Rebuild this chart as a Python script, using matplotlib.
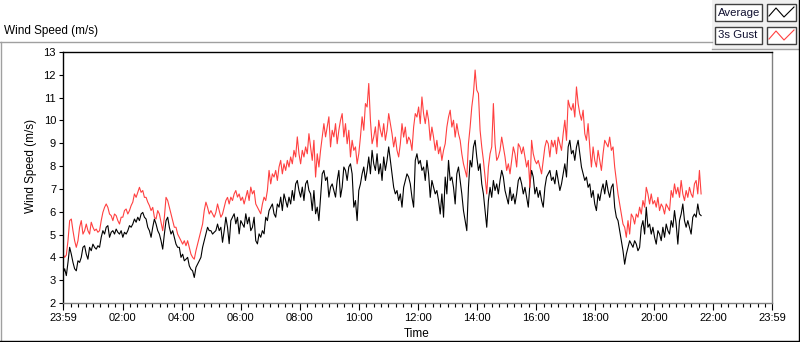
import pandas as pd
import matplotlib
matplotlib.use("Agg")
import matplotlib.pyplot as plt
import matplotlib.dates as mdates
from matplotlib.ticker import FixedLocator
from matplotlib.lines import Line2D
from matplotlib.patches import Rectangle

# -------------- DATA --------------
AXIS_START = "2024-01-01 23:59"
AXIS_END = "2024-01-02 23:59"
LAST_SAMPLE = "2024-01-02 21:35"

# average wind speed (m/s)
avg = [
    3.3, 3.5, 3.2, 3.78, 4.44, 4.14, 3.78, 3.5, 3.41, 3.85,
    3.78, 4.0, 4.44, 4.51, 4.14, 3.92, 4.44, 4.29, 4.58, 4.44,
    4.36, 4.51, 4.44, 4.88, 5.17, 5.02, 5.32, 5.39, 4.88, 5.1,
    5.17, 5.02, 5.24, 5.1, 5.02, 5.17, 4.88, 5.1, 5.02, 5.17,
    5.39, 5.32, 5.46, 5.68, 5.54, 5.76, 5.61, 5.9, 5.97, 5.76,
    5.68, 5.32, 5.17, 4.88, 5.32, 5.68, 5.46, 5.17, 5.02, 4.73,
    4.36, 5.02, 5.61, 5.76, 5.32, 5.02, 5.17, 4.88, 4.58, 4.44,
    4.44, 4.0, 4.14, 3.85, 3.92, 4.0, 3.63, 3.48, 3.41, 3.12,
    3.56, 3.7, 3.85, 4.0, 4.44, 4.73, 5.02, 5.32, 5.17, 5.17,
    5.02, 5.1, 5.17, 5.46, 5.17, 5.32, 4.66, 5.17, 5.76, 5.32,
    # 06:00 - 11:30
    4.6, 5.61, 5.76, 5.91, 5.47, 5.76, 5.03, 5.61, 5.47, 5.32,
    5.91, 5.47, 5.76, 5.17, 5.32, 5.76, 4.73, 4.59, 5.03, 4.88,
    5.17, 5.03, 5.76, 5.61, 6.05, 6.2, 6.34, 5.91, 5.76, 6.34,
    6.2, 6.64, 6.05, 6.78, 6.49, 6.2, 6.64, 6.34, 6.93, 6.49,
    7.22, 7.37, 6.93, 6.64, 7.08, 6.49, 7.22, 7.37, 6.93, 6.78,
    6.05, 6.93, 5.91, 6.2, 5.61, 6.64, 7.66, 7.81, 7.37, 7.52,
    6.64, 7.08, 7.22, 6.93, 6.64, 7.37, 7.81, 6.64, 7.08, 7.96,
    7.81, 7.37, 7.96, 8.10, 7.66, 6.2, 6.49, 5.61, 6.93, 7.22,
    7.66, 7.96, 7.37, 7.81, 8.40, 7.66, 8.69, 8.10, 7.81, 8.54,
    7.66, 8.10, 7.37, 8.40, 7.81, 8.25, 8.84,
    # 11:30 - 17:00
    8.25, 7.66, 7.07, 6.78, 6.93, 6.49, 6.78, 6.20, 7.07, 7.37,
    7.66, 7.52, 7.22, 6.63, 6.20, 8.25, 8.54, 8.10, 8.25, 7.81,
    7.96, 7.37, 8.25, 7.66, 6.63, 7.37, 7.07, 6.78, 6.93, 6.49,
    5.90, 6.78, 5.76, 7.52, 6.78, 8.25, 7.37, 7.52, 7.07, 6.34,
    7.66, 7.96, 7.37, 6.78, 6.05, 5.61, 5.17, 7.07, 8.25, 7.96,
    8.84, 9.13, 8.40, 7.81, 8.10, 7.22, 6.78, 6.05, 5.32, 6.49,
    7.07, 6.63, 7.37, 6.93, 7.22, 6.78, 7.37, 7.81, 7.52, 6.93,
    6.63, 6.34, 7.07, 6.49, 6.78, 6.34, 6.78, 7.37, 7.52, 7.22,
    6.78, 7.07, 6.63, 6.20, 7.22, 7.81, 7.52, 6.78, 7.07, 6.63,
    6.93, 6.49, 6.20, 7.07, 7.52, 7.66, 7.81, 7.37,
    # 17:00 - 21:35
    7.52, 7.22, 7.81, 7.37, 6.93, 7.22, 7.66, 8.10, 7.52, 8.84,
    9.13, 8.54, 8.69, 8.25, 8.84, 9.13, 8.54, 7.96, 7.66, 7.37,
    7.52, 7.07, 7.22, 6.63, 6.93, 6.34, 6.05, 6.78, 6.49, 6.93,
    7.22, 6.78, 7.37, 6.93, 6.63, 7.07, 7.22, 6.20, 5.76, 5.61,
    5.17, 4.73, 4.29, 3.70, 4.14, 4.44, 4.73, 4.58, 4.44, 4.73,
    4.58, 4.29, 4.44, 5.32, 5.61, 5.02, 6.20, 5.32, 5.46, 5.02,
    5.32, 4.88, 4.58, 5.17, 5.02, 4.73, 5.32, 4.88, 5.46, 5.17,
    5.02, 5.61, 5.32, 6.05, 5.46, 4.58, 5.61, 5.90, 6.34, 5.61,
    5.32, 5.61, 5.32, 5.02, 5.76, 5.90, 5.76, 6.34, 5.90, 5.83,
]

# 3 s gust (m/s)
gust = [
    4.14, 4.0, 4.1, 4.73, 5.61, 5.68, 5.17, 4.73, 4.44, 4.73,
    5.32, 5.61, 5.02, 5.17, 5.46, 5.17, 5.02, 5.54, 5.32, 5.17,
    5.24, 5.1, 5.17, 5.61, 5.97, 6.19, 6.34, 6.19, 5.9, 5.83,
    5.61, 5.9, 5.83, 5.61, 5.46, 5.76, 5.76, 6.05, 6.12, 5.9,
    6.05, 6.27, 6.42, 6.78, 6.63, 6.85, 7.07, 6.85, 6.93, 6.63,
    6.63, 6.42, 6.27, 6.05, 6.19, 5.76, 5.68, 6.05, 5.9, 5.54,
    5.17, 5.76, 6.63, 6.49, 6.19, 5.9, 5.61, 5.32, 5.32, 5.02,
    4.88, 4.73, 4.58, 4.73, 4.51, 4.73, 4.44, 4.14, 4.0, 3.92,
    4.29, 4.58, 4.88, 5.17, 5.46, 6.05, 6.42, 6.19, 5.9, 6.05,
    5.9, 5.76, 5.97, 6.34, 6.05, 5.76, 5.9, 6.19, 6.49, 6.63,
    # 06:00 - 11:30
    6.34, 6.64, 6.49, 6.78, 6.93, 6.64, 6.78, 6.49, 6.64, 6.34,
    6.64, 6.93, 6.49, 7.08, 6.78, 6.93, 6.34, 6.2, 6.05, 5.91,
    6.34, 6.64, 6.49, 6.93, 7.81, 7.22, 7.66, 7.52, 7.81, 7.37,
    7.96, 8.25, 7.66, 8.10, 7.81, 8.25, 7.96, 8.40, 8.10, 8.69,
    8.40, 9.28, 8.54, 8.10, 8.69, 8.40, 8.84, 8.54, 9.42, 8.84,
    8.25, 9.13, 7.52, 8.54, 7.96, 8.69, 9.28, 9.86, 9.28, 9.72,
    10.16, 8.84, 9.57, 9.28, 9.86, 8.98, 9.57, 10.01, 10.30, 9.28,
    9.86, 8.98, 9.57, 8.40, 9.13, 8.69, 8.84, 8.10, 8.54, 9.28,
    10.16, 9.57, 10.74, 10.59, 11.62, 10.01, 8.98, 9.28, 9.72, 8.84,
    10.01, 9.57, 9.28, 9.86, 9.13, 9.57, 10.30,
    # 11:30 - 17:00
    9.86, 9.42, 8.84, 9.27, 8.69, 8.40, 8.98, 9.86, 9.27, 9.71,
    8.98, 9.27, 9.13, 8.69, 9.71, 10.30, 10.15, 10.59, 9.86, 11.03,
    10.30, 9.86, 10.45, 10.01, 9.13, 9.71, 9.27, 8.69, 9.13, 8.54,
    8.84, 8.25, 8.69, 8.98, 9.71, 10.15, 10.45, 9.71, 10.01, 9.27,
    9.86, 9.42, 9.13, 8.54, 8.10, 7.81, 7.52, 8.98, 9.71, 10.59,
    11.18, 12.21, 11.33, 11.18, 9.57, 8.84, 8.25, 7.52, 6.78, 7.96,
    8.54, 8.84, 10.74, 8.98, 8.25, 8.40, 8.69, 9.27, 8.84, 8.40,
    7.81, 8.10, 7.66, 8.25, 8.84, 8.54, 7.96, 8.98, 8.84, 8.54,
    8.84, 8.40, 7.96, 8.25, 7.07, 9.13, 8.54, 8.25, 8.10, 8.25,
    7.96, 7.66, 8.25, 8.84, 9.13, 8.98, 8.40, 9.13,
    # 17:00 - 21:35
    8.84, 9.13, 8.54, 9.27, 8.98, 8.69, 9.42, 10.01, 9.13, 10.89,
    10.59, 10.45, 10.74, 10.15, 11.47, 10.74, 10.30, 10.01, 10.45, 9.42,
    9.13, 9.86, 8.84, 7.96, 8.84, 8.25, 7.96, 8.69, 8.25, 7.81,
    8.54, 9.13, 8.98, 8.84, 9.27, 8.69, 8.84, 7.96, 7.37, 6.78,
    6.34, 5.90, 5.46, 5.32, 4.88, 5.61, 5.02, 5.90, 5.76, 5.46,
    5.90, 5.76, 6.20, 5.90, 6.49, 6.20, 7.07, 6.78, 6.34, 6.78,
    6.34, 6.49, 6.20, 6.63, 6.05, 6.34, 6.20, 5.90, 6.34, 6.20,
    6.05, 6.93, 6.63, 7.22, 6.78, 7.07, 6.63, 7.37, 6.78, 6.49,
    6.93, 6.63, 7.07, 6.78, 6.63, 7.22, 7.37, 6.78, 7.81, 6.78,
]

SERIES = ["Average", "3s Gust"]
COLORS = ["black", "#ff4040"]
Y_TICKS = list(range(2, 14))
# --------------------------------------------------------

plt.rcParams["font.family"] = ["Liberation Sans", "DejaVu Sans"]

W, H = 800, 342
times = pd.date_range(AXIS_START, LAST_SAMPLE, periods=len(avg))
t0 = pd.Timestamp(AXIS_START)
t1 = pd.Timestamp(AXIS_END)


def fx(x):
    return x / W


def fy(y):
    return 1 - y / H


fig = plt.figure(figsize=(W / 100, H / 100), dpi=100)
ax = fig.add_axes([fx(63), fy(303), 709 / W, 251 / H])

ax.plot(times, avg, color=COLORS[0], lw=0.8)
ax.plot(times, gust, color=COLORS[1], lw=0.8)

ax.set_xlim(t0, t1)
ax.set_ylim(2, 13)
ax.set_yticks(Y_TICKS)

majors = [t0] + [t0.normalize() + pd.Timedelta(days=1, hours=h)
                 for h in range(2, 23, 2)] + [t1]
ax.xaxis.set_major_locator(FixedLocator(mdates.date2num(majors)))
ax.xaxis.set_major_formatter(mdates.DateFormatter("%H:%M"))
ax.xaxis.set_minor_locator(mdates.MinuteLocator(byminute=[0, 15, 30, 45]))

ax.tick_params(axis="y", direction="out", length=3, width=0.8,
               labelsize=8, pad=2)
ax.tick_params(axis="x", which="major", direction="out", length=5,
               width=0.8, labelsize=8, pad=2)
ax.tick_params(axis="x", which="minor", direction="out", length=3,
               width=0.8)

for side in ["top", "left"]:
    ax.spines[side].set_color("black")
    ax.spines[side].set_linewidth(1.0)
for side in ["right", "bottom"]:
    ax.spines[side].set_color("#808080")
    ax.spines[side].set_linewidth(1.0)

# labels
fig.text(fx(4), fy(31), "Wind Speed (m/s)", fontsize=8.5, va="center")
fig.text(fx(31), fy(166), "Wind Speed (m/s)", fontsize=8.5, rotation=90,
         ha="center", va="center")
fig.text(fx(417), fy(334), "Time", fontsize=8.5, ha="center", va="center")

# legend panel background
fig.add_artist(Rectangle((fx(712), fy(49)), 87 / W, 49 / H, fc="#f0f0f0",
                         ec="none", transform=fig.transFigure, zorder=0))

# outer frame
frame = [
    ((0, 42), (712, 42), "#a0a0a0"),
    ((712, 49), (799, 49), "#a0a0a0"),
    ((799, 0), (799, 341), "black"),
    ((0.5, 42), (0.5, 341), "#a0a0a0"),
    ((0, 341), (800, 341), "black"),
]
for (x0, y0), (x1, y1), c in frame:
    fig.add_artist(Line2D([fx(x0), fx(x1)], [fy(y0), fy(y1)], color=c, lw=1))

# legend boxes
for i, (name, col) in enumerate(zip(SERIES, COLORS)):
    top = 4 + i * 23
    fig.add_artist(Rectangle((fx(715), fy(top + 17)), 47 / W, 17 / H,
                             fc="white", ec="#404040", lw=1,
                             transform=fig.transFigure))
    fig.add_artist(Rectangle((fx(767), fy(top + 17)), 29 / W, 17 / H,
                             fc="white", ec="#404040", lw=1,
                             transform=fig.transFigure))
    fig.text(fx(718), fy(top + 8.5), name, fontsize=8.2, va="center",
             color="#101030")
    zx = [769, 776, 784, 794]
    zy = [top + 12, top + 4, top + 13, top + 3]
    fig.add_artist(Line2D([fx(v) for v in zx], [fy(v) for v in zy],
                          color=col, lw=0.8))

fig.savefig("out.png", dpi=100)
